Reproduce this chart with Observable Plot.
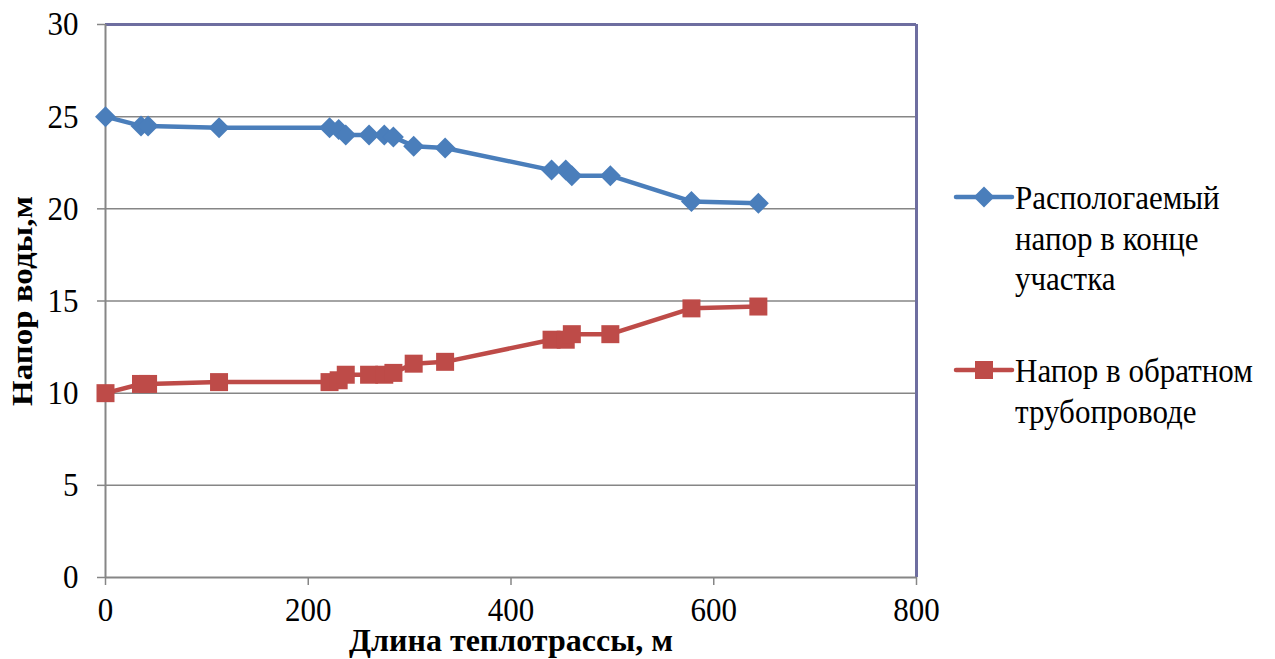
<!DOCTYPE html>
<html>
<head>
<meta charset="utf-8">
<script src="https://cdn.jsdelivr.net/npm/d3@7"></script>
<script src="https://cdn.jsdelivr.net/npm/@observablehq/plot@0.6"></script>
<style>
  html, body { margin: 0; padding: 0; background: #fff; }
  #wrap { position: relative; width: 1275px; height: 659px; font-family: "Liberation Serif", "Times New Roman", serif; }
  #chart { position: absolute; left: 0; top: 0; }
  .leg { position: absolute; left: 953px; font-size: 31px; line-height: 37px; color: #000; }
  .leg svg { position: absolute; left: 0; top: 0; }
  .leg span { position: absolute; left: 62px; top: 0; white-space: nowrap; transform: scaleY(1.1); transform-origin: 0 0; }
</style>
</head>
<body>
<div id="wrap">
  <div id="chart"></div>
  <div class="leg" id="leg1" style="top:177px"></div>
  <div class="leg" id="leg2" style="top:350px"></div>
</div>
<script>
const lengths = [0, 35, 42, 112, 221, 230, 237, 260, 275, 284, 304, 335, 440, 454, 460, 498, 578, 644];
const supplyHead = [25.0, 24.5, 24.5, 24.4, 24.4, 24.3, 24.0, 24.0, 24.0, 23.9, 23.4, 23.3, 22.1, 22.1, 21.8, 21.8, 20.4, 20.3];
const returnHead = [10.0, 10.5, 10.5, 10.6, 10.6, 10.7, 11.0, 11.0, 11.0, 11.1, 11.6, 11.7, 12.9, 12.9, 13.2, 13.2, 14.6, 14.7];
const legendLabels = [["Распологаемый", "напор в конце", "участка"], ["Напор в обратном", "трубопроводе"]];
const xTicks = [0, 200, 400, 600, 800];
const yTicks = [0, 5, 10, 15, 20, 25, 30];
const xTitle = "Длина теплотрассы, м";
const yTitle = "Напор воды,м";

const blue = "#4a7ebb";
const red = "#be4b48";

const supply = lengths.map((x, i) => ({x, y: supplyHead[i]}));
const ret = lengths.map((x, i) => ({x, y: returnHead[i]}));

const diamond = {draw(ctx) { const s = 10.5; ctx.moveTo(0, -s); ctx.lineTo(s, 0); ctx.lineTo(0, s); ctx.lineTo(-s, 0); ctx.closePath(); }};
const square = {draw(ctx) { const s = 9; ctx.rect(-s, -s, 2 * s, 2 * s); }};

const chart = Plot.plot({
  width: 1275,
  height: 659,
  marginLeft: 105,
  marginRight: 359,
  marginTop: 24,
  marginBottom: 82,
  style: {fontFamily: "'Liberation Serif', 'Times New Roman', serif", fontSize: "31px", color: "#000", background: "#fff"},
  x: {type: "linear", domain: [0, 800], label: null},
  y: {type: "linear", domain: [0, 30], label: null},
  marks: [
    Plot.ruleY(yTicks.filter(d => d > 0 && d < 30), {stroke: "#868686", strokeWidth: 1.5}),
    Plot.ruleX([800], {stroke: "#6e6ea0", strokeWidth: 3}),
    Plot.ruleY([30], {stroke: "#6e6ea0", strokeWidth: 3}),
    Plot.ruleY([0], {stroke: "#868686", strokeWidth: 2}),
    Plot.ruleX([0], {stroke: "#868686", strokeWidth: 2}),
    Plot.axisX({ticks: xTicks, tickSize: 8, tickPadding: 12, stroke: "#868686", strokeWidth: 1.5, fontSize: 31, fill: "#000", label: null}),
    Plot.axisY({ticks: yTicks, tickSize: 8, tickPadding: 19, stroke: "#868686", strokeWidth: 1.5, fontSize: 31, fill: "#000", label: null}),
    Plot.line(supply, {x: "x", y: "y", stroke: blue, strokeWidth: 4.5}),
    Plot.dot(supply, {x: "x", y: "y", fill: blue, stroke: "none", symbol: diamond}),
    Plot.line(ret, {x: "x", y: "y", stroke: red, strokeWidth: 4.5}),
    Plot.dot(ret, {x: "x", y: "y", fill: red, stroke: "none", symbol: square}),
    Plot.text([xTitle], {frameAnchor: "bottom", dy: 63, fontWeight: "bold", fontSize: 32, fill: "#000", lineAnchor: "middle", textAnchor: "middle", className: "xtitle"}),
    Plot.text([yTitle], {frameAnchor: "left", dx: -83, rotate: -90, fontWeight: "bold", fontSize: 30, fill: "#000", textAnchor: "middle", lineAnchor: "middle"})
  ]
});
document.getElementById("chart").appendChild(chart);

// slight vertical stretch of the glyphs, as in the reference rendering
const k = 1.1;
chart.querySelectorAll("text").forEach(t => {
  if (t.closest(".xtitle")) return;
  const b = t.getBBox();
  const cx = b.x + b.width / 2, cy = b.y + b.height / 2;
  const tr = t.getAttribute("transform") || "";
  const s = tr.includes("rotate") ? `scale(${k},1)` : `scale(1,${k})`;
  t.setAttribute("transform", `${tr} translate(${cx},${cy}) ${s} translate(${-cx},${-cy})`.trim());
});

function legendItem(id, color, shape, lines) {
  const el = document.getElementById(id);
  const svg = d3.create("svg").attr("width", 62).attr("height", 40);
  svg.append("line").attr("x1", 3).attr("x2", 59).attr("y1", 20).attr("y2", 20)
    .attr("stroke", color).attr("stroke-width", 4.5).attr("stroke-linecap", "round");
  if (shape === "diamond") {
    svg.append("path").attr("d", "M31,9.5 L41.5,20 L31,30.5 L20.5,20 Z").attr("fill", color);
  } else {
    svg.append("rect").attr("x", 22).attr("y", 11).attr("width", 18).attr("height", 18).attr("fill", color);
  }
  el.appendChild(svg.node());
  const span = document.createElement("span");
  span.innerHTML = lines.join("<br>");
  el.appendChild(span);
}
legendItem("leg1", blue, "diamond", legendLabels[0]);
legendItem("leg2", red, "square", legendLabels[1]);
</script>
</body>
</html>
